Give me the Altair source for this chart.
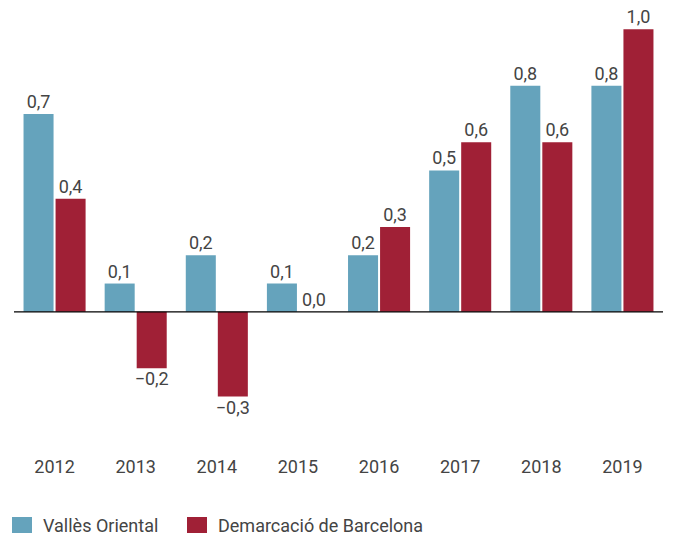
import altair as alt
import pandas as pd

years = ["2012", "2013", "2014", "2015", "2016", "2017", "2018", "2019"]
valles = [0.7, 0.1, 0.2, 0.1, 0.2, 0.5, 0.8, 0.8]
demarcacio = [0.4, -0.2, -0.3, 0.0, 0.3, 0.6, 0.6, 1.0]
series_names = ["Vallès Oriental", "Demarcació de Barcelona"]
colors = ["#65a3bc", "#a02036"]

rows = []
for i, y in enumerate(years):
    rows.append({"year": y, "series": series_names[0], "value": valles[i]})
    rows.append({"year": y, "series": series_names[1], "value": demarcacio[i]})
df = pd.DataFrame(rows)

FONT = "Roboto"
TXT = "#444444"
FS = 18

base = alt.Chart(df).transform_calculate(
    label="replace(format(datum.value, '.1f'), '.', ',')"
)

xenc = alt.X("year:N", sort=years,
             scale=alt.Scale(paddingInner=0.235, paddingOuter=0.1175),
             axis=alt.Axis(title=None, domain=False, ticks=False, labelAngle=0,
                           labelFont=FONT, labelFontSize=FS, labelColor=TXT,
                           labelPadding=19))
xoff = alt.XOffset("series:N", sort=series_names,
                   scale=alt.Scale(paddingInner=0.0625))
yenc = alt.Y("value:Q", scale=alt.Scale(domain=[-0.45, 1.05], nice=False),
             axis=None)

bars = base.mark_bar().encode(
    x=xenc, xOffset=xoff, y=yenc,
    color=alt.Color("series:N", sort=series_names,
                    scale=alt.Scale(domain=series_names, range=colors),
                    legend=alt.Legend(title=None, orient="none", direction="horizontal",
                                      legendX=-2, legendY=502,
                                      symbolType="square", symbolSize=400,
                                      symbolStrokeWidth=0,
                                      labelFont=FONT, labelFontSize=FS,
                                      labelColor=TXT, columnPadding=28,
                                      labelLimit=400,
                                      symbolOffset=0, labelOffset=11))
)

pos_text = base.transform_filter("datum.value >= 0").mark_text(
    baseline="bottom", dy=-2, font=FONT, fontSize=FS, color=TXT
).encode(x=xenc, xOffset=xoff, y=yenc, text="label:N")

neg_text = base.transform_filter("datum.value < 0").mark_text(
    baseline="top", dy=3, font=FONT, fontSize=FS, color=TXT
).encode(x=xenc, xOffset=xoff, y=yenc, text="label:N")

zero = alt.Chart(pd.DataFrame({"z": [0]})).mark_rule(color="#000000", strokeWidth=1.2).encode(
    y=alt.Y("z:Q", scale=alt.Scale(domain=[-0.45, 1.05], nice=False), axis=None)
)

chart = alt.layer(bars, zero, pos_text, neg_text).properties(
    width=649, height=424,
    autosize=alt.AutoSizeParams(type="none"),
    padding={"left": 6, "top": 7, "right": 0, "bottom": 100},
).configure_view(stroke=None)

chart.save("out.html", embed_options={"renderer": "svg", "actions": False})
